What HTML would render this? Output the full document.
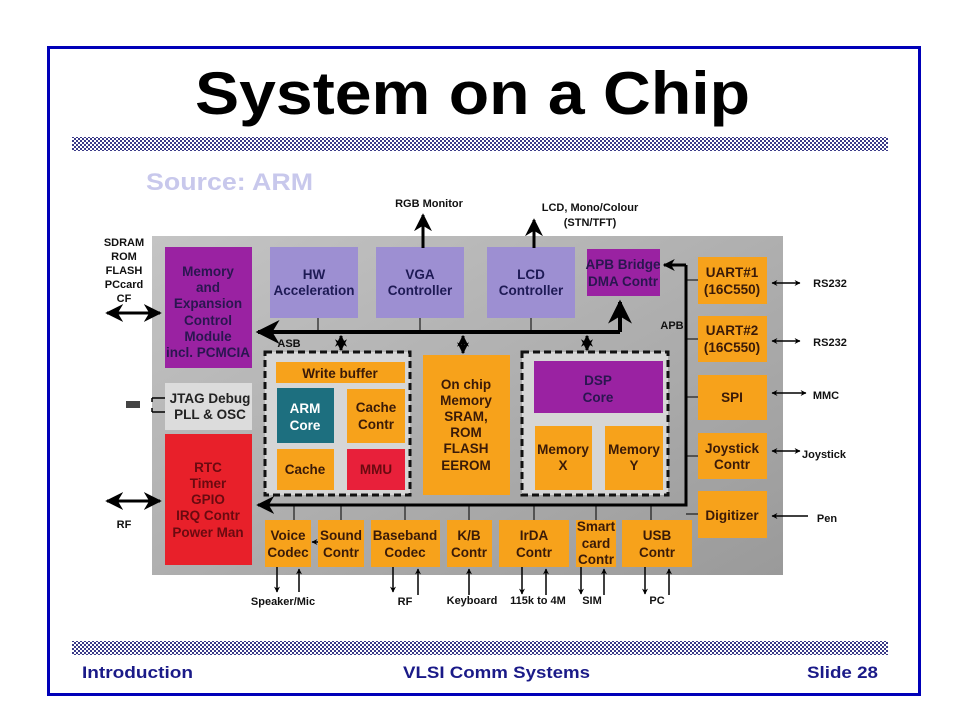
<!DOCTYPE html>
<html><head><meta charset="utf-8"><style>
html,body{margin:0;padding:0;background:#fff}
svg{display:block}
text{font-family:"Liberation Sans",sans-serif;font-weight:bold}
</style></head><body>
<svg width="960" height="720" viewBox="0 0 960 720" xmlns="http://www.w3.org/2000/svg">
<defs>
<pattern id="chk" width="4" height="4" patternUnits="userSpaceOnUse">
<rect width="4" height="4" fill="#fff"/><rect width="2" height="2" fill="#3a3a88"/><rect x="2" y="2" width="2" height="2" fill="#3a3a88"/>
</pattern>
<linearGradient id="gb" x1="0" y1="0" x2="1" y2="1"><stop offset="0" stop-color="#c4c4c4"/><stop offset="1" stop-color="#9a9a9a"/></linearGradient>
<marker id="ah" viewBox="0 0 10 10" refX="9" refY="5" markerWidth="6" markerHeight="6" orient="auto-start-reverse"><path d="M0,0 L10,5 L0,10 L3,5 z" fill="#000"/></marker>
<marker id="ab" viewBox="0 0 10 10" refX="9" refY="5" markerWidth="4" markerHeight="4" orient="auto-start-reverse"><path d="M0,0 L10,5 L0,10 L3,5 z" fill="#000"/></marker>
</defs>
<rect x="48.5" y="47.5" width="871" height="647" fill="#fff" stroke="#0000b8" stroke-width="3"/>
<text x="195" y="114" font-size="60" textLength="555" lengthAdjust="spacingAndGlyphs" fill="#000">System on a Chip</text>
<rect x="72" y="137" width="816" height="14" fill="url(#chk)"/>
<rect x="72" y="641" width="816" height="14" fill="url(#chk)"/>
<text x="146" y="190" font-size="24" textLength="167" lengthAdjust="spacingAndGlyphs" fill="#c8c8ec">Source: ARM</text>
<g font-size="17" fill="#1a1a88">
<text x="82" y="678" textLength="111" lengthAdjust="spacingAndGlyphs">Introduction</text>
<text x="403" y="678" textLength="187" lengthAdjust="spacingAndGlyphs">VLSI Comm Systems</text>
<text x="807" y="678" textLength="71" lengthAdjust="spacingAndGlyphs">Slide 28</text>
</g>

<rect x="152" y="236" width="631" height="339" fill="url(#gb)"/>

<g font-size="13.5" text-anchor="middle">
<rect x="165" y="247" width="87" height="121" fill="#9a22a2"/>
<g fill="#2a1650"><text x="208" y="276">Memory</text><text x="208" y="292">and</text><text x="208" y="308">Expansion</text><text x="208" y="325">Control</text><text x="208" y="341">Module</text><text x="208" y="357">incl. PCMCIA</text></g>
<rect x="270" y="247" width="88" height="71" fill="#9d8fd2"/>
<g fill="#1e1a55"><text x="314" y="279">HW</text><text x="314" y="295">Acceleration</text></g>
<rect x="376" y="247" width="88" height="71" fill="#9d8fd2"/>
<g fill="#1e1a55"><text x="420" y="279">VGA</text><text x="420" y="295">Controller</text></g>
<rect x="487" y="247" width="88" height="71" fill="#9d8fd2"/>
<g fill="#1e1a55"><text x="531" y="279">LCD</text><text x="531" y="295">Controller</text></g>
<rect x="587" y="249" width="73" height="47" fill="#9a22a2"/>
<g fill="#2a1650"><text x="623" y="269">APB Bridge</text><text x="623" y="286">DMA Contr</text></g>

<g fill="#f7a21b">
<rect x="698" y="257" width="69" height="47"/><rect x="698" y="316" width="69" height="46"/>
<rect x="698" y="375" width="69" height="45"/><rect x="698" y="433" width="69" height="46"/>
<rect x="698" y="491" width="69" height="47"/>
</g>
<g fill="#3a1a08">
<text x="732" y="277">UART#1</text><text x="732" y="294">(16C550)</text>
<text x="732" y="335">UART#2</text><text x="732" y="352">(16C550)</text>
<text x="732" y="402">SPI</text>
<text x="732" y="453">Joystick</text><text x="732" y="469">Contr</text>
<text x="732" y="520">Digitizer</text>
</g>

<rect x="165" y="383" width="87" height="47" fill="#dcdcdc"/>
<g fill="#222"><text x="210" y="403">JTAG Debug</text><text x="210" y="419">PLL &amp; OSC</text></g>
<rect x="165" y="434" width="87" height="131" fill="#e8202a"/>
<g fill="#6a0a10"><text x="208" y="472">RTC</text><text x="208" y="488">Timer</text><text x="208" y="504">GPIO</text><text x="208" y="520">IRQ Contr</text><text x="208" y="537">Power Man</text></g>

<rect x="265" y="352" width="145" height="143" fill="#d6d6d6" stroke="#111" stroke-width="3" stroke-dasharray="7,4"/>
<rect x="276" y="362" width="129" height="21" fill="#f7a21b"/><text x="340" y="378" fill="#3a1a08">Write buffer</text>
<rect x="277" y="388" width="57" height="55" fill="#1d6f7f"/><g fill="#fff"><text x="305" y="413">ARM</text><text x="305" y="430">Core</text></g>
<rect x="347" y="389" width="58" height="54" fill="#f7a21b"/><g fill="#3a1a08"><text x="376" y="412">Cache</text><text x="376" y="429">Contr</text></g>
<rect x="277" y="449" width="57" height="41" fill="#f7a21b"/><text x="305" y="474" fill="#3a1a08">Cache</text>
<rect x="347" y="449" width="58" height="41" fill="#e8203a"/><text x="376" y="474" fill="#6a0a10">MMU</text>

<rect x="423" y="355" width="87" height="140" fill="#f7a21b"/>
<g fill="#3a1a08"><text x="466" y="389">On chip</text><text x="466" y="405">Memory</text><text x="466" y="421">SRAM,</text><text x="466" y="437">ROM</text><text x="466" y="453">FLASH</text><text x="466" y="470">EEROM</text></g>

<rect x="522" y="352" width="146" height="143" fill="#d6d6d6" stroke="#111" stroke-width="3" stroke-dasharray="7,4"/>
<rect x="534" y="361" width="129" height="52" fill="#9a22a2"/><g fill="#2a1650"><text x="598" y="385">DSP</text><text x="598" y="402">Core</text></g>
<rect x="535" y="426" width="57" height="64" fill="#f7a21b"/><g fill="#3a1a08"><text x="563" y="454">Memory</text><text x="563" y="470">X</text></g>
<rect x="605" y="426" width="58" height="64" fill="#f7a21b"/><g fill="#3a1a08"><text x="634" y="454">Memory</text><text x="634" y="470">Y</text></g>

<g fill="#f7a21b">
<rect x="265" y="520" width="46" height="47"/><rect x="318" y="520" width="46" height="47"/>
<rect x="371" y="520" width="69" height="47"/><rect x="447" y="520" width="45" height="47"/>
<rect x="499" y="520" width="70" height="47"/><rect x="576" y="520" width="40" height="47"/>
<rect x="622" y="520" width="70" height="47"/>
</g>
<g fill="#3a1a08">
<text x="288" y="540">Voice</text><text x="288" y="557">Codec</text>
<text x="341" y="540">Sound</text><text x="341" y="557">Contr</text>
<text x="405" y="540">Baseband</text><text x="405" y="557">Codec</text>
<text x="469" y="540">K/B</text><text x="469" y="557">Contr</text>
<text x="534" y="540">IrDA</text><text x="534" y="557">Contr</text>
<text x="596" y="531">Smart</text><text x="596" y="548">card</text><text x="596" y="564">Contr</text>
<text x="657" y="540">USB</text><text x="657" y="557">Contr</text>
</g>
</g>

<g stroke="#000" fill="none">
<path d="M620,332 H258" stroke-width="4" marker-end="url(#ah)"/>
<path d="M620,332 V302" stroke-width="4" marker-end="url(#ah)"/>
<path d="M686,265 V505 H258" stroke-width="3" marker-end="url(#ah)"/>
<path d="M686,265 H664" stroke-width="3" marker-end="url(#ab)"/>
<g stroke-width="1">
<path d="M318,318 V332 M420,318 V332 M531,318 V332"/>
<path d="M686,280 H698 M686,339 H698 M686,397 H698 M686,456 H698 M686,514 H698"/>
<path d="M294,505 V520 M341,505 V520 M405,505 V520 M469,505 V520 M534,505 V520 M596,505 V520 M651,505 V520"/>
</g>
<g stroke-width="3">
<path d="M341,336 V350" marker-start="url(#ab)" marker-end="url(#ab)"/>
<path d="M463,336 V353" marker-start="url(#ab)" marker-end="url(#ab)"/>
<path d="M587,336 V350" marker-start="url(#ab)" marker-end="url(#ab)"/>
<path d="M423,248 V215" marker-end="url(#ah)"/>
<path d="M534,248 V220" marker-end="url(#ah)"/>
<path d="M107,313 H160" marker-start="url(#ah)" marker-end="url(#ah)"/>
<path d="M107,501 H160" marker-start="url(#ah)" marker-end="url(#ah)"/>
</g>
<g stroke-width="1.5">
<path d="M772,283 H800" marker-start="url(#ab)" marker-end="url(#ab)"/>
<path d="M772,341 H800" marker-start="url(#ab)" marker-end="url(#ab)"/>
<path d="M772,393 H806" marker-start="url(#ab)" marker-end="url(#ab)"/>
<path d="M772,451 H800" marker-start="url(#ab)" marker-end="url(#ab)"/>
<path d="M808,516 H772" marker-end="url(#ab)"/>
<path d="M318,542 H312" marker-end="url(#ab)"/>
<path d="M277,567 V592" marker-end="url(#ab)"/><path d="M299,592 V569" marker-end="url(#ab)"/>
<path d="M393,567 V592" marker-end="url(#ab)"/><path d="M418,595 V569" marker-end="url(#ab)"/>
<path d="M469,595 V569" marker-end="url(#ab)"/>
<path d="M522,567 V594" marker-end="url(#ab)"/><path d="M546,595 V569" marker-end="url(#ab)"/>
<path d="M581,567 V594" marker-end="url(#ab)"/><path d="M604,595 V569" marker-end="url(#ab)"/>
<path d="M645,567 V594" marker-end="url(#ab)"/><path d="M669,595 V569" marker-end="url(#ab)"/>
<path d="M152,398 H165 M152,412 H165 M152,398 V402 M152,408 V412"/>
</g>
</g>
<rect x="126" y="401" width="14" height="7" fill="#444"/>

<g font-size="11" fill="#111" text-anchor="middle">
<text x="429" y="207">RGB Monitor</text>
<text x="590" y="211">LCD, Mono/Colour</text><text x="590" y="226">(STN/TFT)</text>
<text x="124" y="246">SDRAM</text><text x="124" y="260">ROM</text><text x="124" y="274">FLASH</text><text x="124" y="288">PCcard</text><text x="124" y="302">CF</text>
<text x="124" y="528">RF</text>
<text x="672" y="329">APB</text>
<text x="289" y="347">ASB</text>
<text x="830" y="287">RS232</text><text x="830" y="346">RS232</text>
<text x="826" y="399">MMC</text><text x="824" y="458">Joystick</text><text x="827" y="522">Pen</text>
<text x="283" y="605">Speaker/Mic</text><text x="405" y="605">RF</text><text x="472" y="604">Keyboard</text>
<text x="538" y="604">115k to 4M</text><text x="592" y="604">SIM</text><text x="657" y="604">PC</text>
</g>
</svg>
</body></html>
